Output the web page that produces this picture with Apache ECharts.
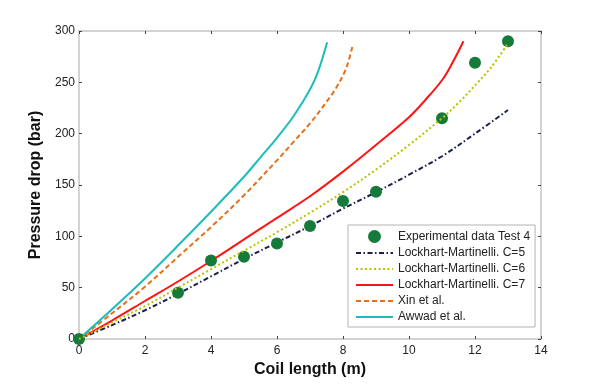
<!DOCTYPE html>
<html>
<head>
<meta charset="utf-8">
<script src="https://cdn.jsdelivr.net/npm/echarts@6/dist/echarts.min.js"></script>
<style>html,body{margin:0;padding:0;background:#fff}#c{width:600px;height:384px}</style>
</head>
<body>
<div id="c"></div>
<script>
var xTicks = [0, 2, 4, 6, 8, 10, 12, 14];
var yTicks = [0, 50, 100, 150, 200, 250, 300];

var expX = [0, 3, 4, 5, 6, 7, 8, 9, 11, 12, 13];
var expY = [0, 45, 76.5, 80, 93, 110, 134.5, 143.5, 215, 269, 290];

var c5X = [0, 1, 2, 3, 4, 5, 6, 7, 8, 9, 10, 11, 12, 13];
var c5Y = [0, 13.5, 28, 44, 61, 78, 94, 110, 127, 143, 160, 178, 200, 223];

var c6X = [0, 1, 2, 3, 4, 5, 6, 7, 8, 9, 10, 11, 11.5, 12, 12.5, 13];
var c6Y = [0, 16, 32, 50, 68, 86, 104, 123, 143, 165, 189, 215, 230, 247, 265, 288];

var c7X = [0, 1, 2, 3, 4, 5, 6, 7, 8, 9, 10, 10.5, 11, 11.3, 11.65];
var c7Y = [0, 18, 37, 56, 76, 97, 118, 139, 163, 189, 216, 233, 252, 268, 290];

var xinX = [0, 1, 2, 3, 4, 5, 6, 6.5, 7, 7.5, 7.8, 8.1, 8.3];
var xinY = [0, 25, 51, 80, 109, 140, 174, 192, 210, 231, 245, 264, 287];

var awwadX = [0, 1, 2, 3, 4, 5, 5.5, 6, 6.5, 7, 7.25, 7.52];
var awwadY = [0, 29, 59, 91, 124, 158, 177, 196, 217, 243, 261, 289];

var names = ['Experimental data Test 4', 'Lockhart-Martinelli. C=5', 'Lockhart-Martinelli. C=6',
             'Lockhart-Martinelli. C=7', 'Xin et al.', 'Awwad et al.'];

function pairs(xs, ys) { return xs.map(function (x, i) { return [x, ys[i]]; }); }

var FONT = 'Liberation Sans, Arial, sans-serif';
var chart = echarts.init(document.getElementById('c'), null, {renderer: 'canvas'});

function lineSeries(name, xs, ys, color, type, z) {
  return {
    name: name, type: 'line', data: pairs(xs, ys), symbol: 'none', smooth: 0.35,
    lineStyle: {color: color, width: 2, type: type}, itemStyle: {color: color}, z: z,
    xAxisIndex: 0, yAxisIndex: 0
  };
}

function axisCommon() {
  return {
    axisLine: {show: true, onZero: false, lineStyle: {color: '#c4c4c4', width: 1.5}},
    axisTick: {show: true, inside: true, length: 3, lineStyle: {color: '#444'}},
    splitLine: {show: false}
  };
}

chart.setOption({
  animation: false,
  backgroundColor: '#ffffff',
  grid: {left: 79, right: 59, top: 31, bottom: 45},
  xAxis: [
    Object.assign({
      type: 'value', min: xTicks[0], max: xTicks[xTicks.length - 1], interval: 2, position: 'bottom',
      name: 'Coil length (m)', nameLocation: 'middle', nameGap: 22,
      nameTextStyle: {fontFamily: FONT, fontSize: 16, fontWeight: 'bold', color: '#111'},
      axisLabel: {fontFamily: FONT, fontSize: 12, color: '#222', margin: 6}
    }, axisCommon()),
    Object.assign({
      type: 'value', min: xTicks[0], max: xTicks[xTicks.length - 1], interval: 2, position: 'top',
      axisLabel: {show: false}
    }, axisCommon())
  ],
  yAxis: [
    Object.assign({
      type: 'value', min: yTicks[0], max: yTicks[yTicks.length - 1], interval: 50, position: 'left',
      name: 'Pressure drop (bar)', nameLocation: 'middle', nameGap: 23, nameRotate: 90,
      nameTextStyle: {fontFamily: FONT, fontSize: 16, fontWeight: 'bold', color: '#111'},
      axisLabel: {fontFamily: FONT, fontSize: 12, color: '#222', margin: 4}
    }, axisCommon()),
    Object.assign({
      type: 'value', min: yTicks[0], max: yTicks[yTicks.length - 1], interval: 50, position: 'right',
      axisLabel: {show: false}
    }, axisCommon())
  ],
  legend: {
    orient: 'vertical', left: 348, top: 225,
    data: names.map(function (n, i) {
      return i === 0 ? {name: n} : {name: n, itemStyle: {opacity: 0}};
    }),
    itemWidth: 37, itemHeight: 13, itemGap: 4, padding: [5, 5, 4, 7],
    borderColor: '#b4b4b4', borderWidth: 1, backgroundColor: '#fff',
    textStyle: {fontFamily: FONT, fontSize: 12, color: '#222'}
  },
  series: [
    {
      name: names[0], type: 'scatter', data: pairs(expX, expY), symbol: 'circle', symbolSize: 12,
      itemStyle: {color: '#167a3a', opacity: 1}, z: 4
    },
    lineSeries(names[1], c5X, c5Y, '#1b1f4d', [5, 2.5, 1.5, 2.5], 3),
    lineSeries(names[2], c6X, c6Y, '#b7c400', [2, 2.5], 5),
    lineSeries(names[3], c7X, c7Y, '#ff1414', 'solid', 3),
    lineSeries(names[4], xinX, xinY, '#e5701a', [5, 3], 3),
    lineSeries(names[5], awwadX, awwadY, '#1dbcbc', 'solid', 3)
  ]
});
</script>
</body>
</html>
